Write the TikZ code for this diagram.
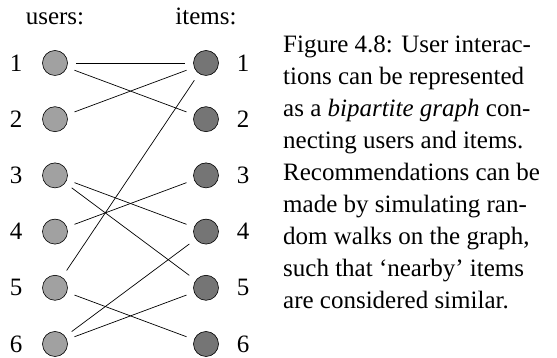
\documentclass[tikz,border=0pt]{standalone}
\usepackage{fontspec}
\setmainfont{Liberation Serif}
\usetikzlibrary{calc}

\tikzset{
  user/.style={circle, draw, line width=0.6pt, fill=black!37, minimum size=25pt, inner sep=0pt},
  item/.style={circle, draw, line width=0.6pt, fill=black!54, minimum size=25pt, inner sep=0pt},
  num/.style={font=\fontsize{25}{30}\selectfont, inner sep=0pt},
  edge/.style={line width=0.7pt, shorten <=8pt, shorten >=8pt}
}

\begin{document}
\begin{tikzpicture}[x=1pt, y=1pt]
        \useasboundingbox (0,0) rectangle (557,358);
        \node[num, anchor=base] (uhead) at (55,333) {users:};
        \node[num, anchor=base] (ihead) at (206,333) {items:};
        \foreach \k in {1,...,6} {
            \node[user] (u\k) at (55,{358-63-56.2*(\k-1)}) {};
            \node[item] (i\k) at (206,{358-63-56.2*(\k-1)}) {};
            \node[num] (un\k) at (16,{358-63-56.2*(\k-1)}) {\k};
            \node[num] (in\k) at (243,{358-63-56.2*(\k-1)}) {\k};
        }
        \draw[edge] (u1) -- (i1);
        \draw[edge] (u1) -- (i2);
        \draw[edge] (u2) -- (i1);
        \draw[edge] (u5) -- (i1);
        \draw[edge] (u3) -- (i4);
        \draw[edge] (u3) -- (i5);
        \draw[edge] (u4) -- (i3);
        \draw[edge] (u5) -- (i6);
        \draw[edge] (u6) -- (i4);
        \draw[edge] (u6) -- (i5);
        \node[anchor=north west, inner sep=0pt, align=left,
              font=\fontsize{25}{32}\selectfont] (caption) at (283,322)
            {Figure 4.8: User interac-\\
             tions can be represented\\
             as a \textit{bipartite graph} con-\\
             necting users and items.\\
             Recommendations can be\\
             made by simulating ran-\\
             dom walks on the graph,\\
             such that `nearby' items\\
             are considered similar.};
\end{tikzpicture}
\end{document}
